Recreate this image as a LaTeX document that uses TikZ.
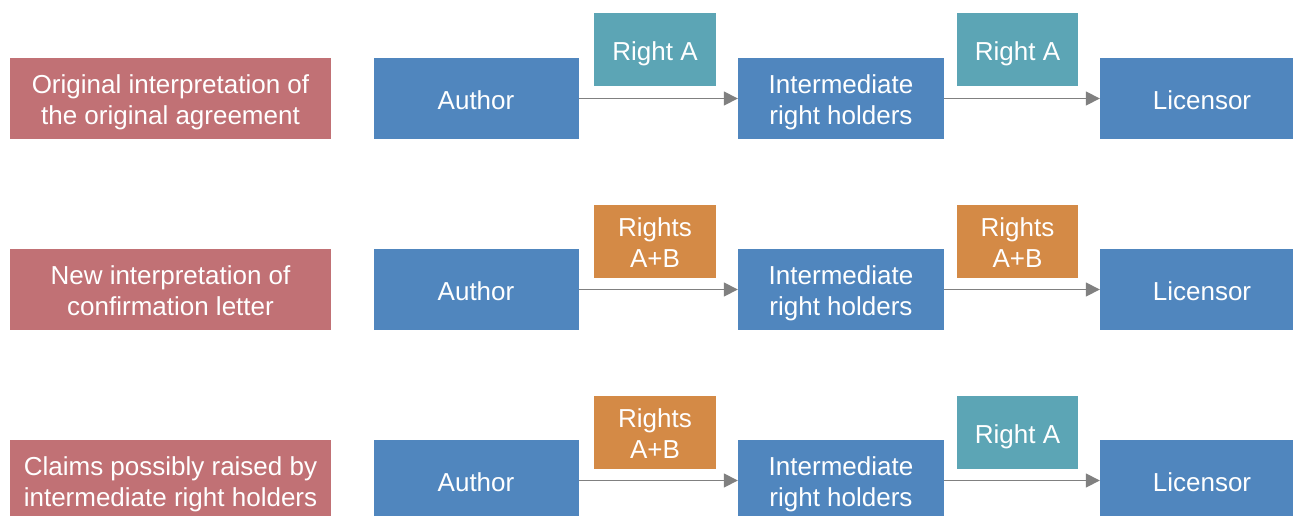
\documentclass[tikz,border=0pt]{standalone}
\usepackage{fontspec}
\setmainfont{Liberation Sans}
\usetikzlibrary{arrows.meta}
\definecolor{cred}{RGB}{193,113,117}
\definecolor{cblue}{RGB}{80,134,190}
\definecolor{cteal}{RGB}{92,165,181}
\definecolor{corange}{RGB}{212,138,70}
\definecolor{carrow}{RGB}{128,128,128}
\newcommand{\strA}{\rule{0pt}{30.7pt}}
\newcommand{\strB}{\rule[-9.3pt]{0pt}{31pt}}
\tikzset{
  base/.style={rectangle, inner sep=0pt, text=white, align=center,
    font=\fontsize{26}{31}\selectfont, minimum height=81pt},
  rowlabel/.style={base, fill=cred, minimum width=321pt},
  party/.style={base, fill=cblue, minimum width=205pt},
  rightA/.style={base, fill=cteal, minimum width=122pt, minimum height=73pt},
  rightAB/.style={base, fill=corange, minimum width=122pt, minimum height=73pt},
  flow/.style={draw=carrow, line width=1.6pt, -{Triangle[length=14pt,width=14pt]}}
}
\begin{document}
\begin{tikzpicture}[x=1pt,y=-1pt]
\useasboundingbox (0,0) rectangle (1293,515);
% Row 1
\node[rowlabel] (l1) at (170.5,98.5) {\strA Original interpretation of\\\strB the original agreement};
\node[party] (a1) at (476,98.5) {\strA\strB Author};
\node[party, minimum width=206pt] (i1) at (841,98.5) {\strA Intermediate\\\strB right holders};
\node[party, minimum width=204pt] (c1) at (1202,98.5) {\strA\strB Licensor};
\node[rightA] (r1a) at (655,49.5) {\strA\strB Right A};
\node[rightA, minimum width=121pt] (r1b) at (1017.5,49.5) {\strA\strB Right A};
\draw[flow] (a1.east) -- (i1.west);
\draw[flow] (i1.east) -- (c1.west);
% Row 2
\node[rowlabel] (l2) at (170.5,289.5) {\strA New interpretation of\\\strB confirmation letter};
\node[party] (a2) at (476,289.5) {\strA\strB Author};
\node[party, minimum width=206pt] (i2) at (841,289.5) {\strA Intermediate\\\strB right holders};
\node[party, minimum width=204pt] (c2) at (1202,289.5) {\strA\strB Licensor};
\node[rightAB] (r2a) at (655,241.5) {\strA Rights\\\strB A+B};
\node[rightAB, minimum width=121pt] (r2b) at (1017.5,241.5) {\strA Rights\\\strB A+B};
\draw[flow] (a2.east) -- (i2.west);
\draw[flow] (i2.east) -- (c2.west);
% Row 3
\node[rowlabel] (l3) at (170.5,480.5) {\strA Claims possibly raised by\\\strB intermediate right holders};
\node[party] (a3) at (476,480.5) {\strA\strB Author};
\node[party, minimum width=206pt] (i3) at (841,480.5) {\strA Intermediate\\\strB right holders};
\node[party, minimum width=204pt] (c3) at (1202,480.5) {\strA\strB Licensor};
\node[rightAB] (r3a) at (655,432.5) {\strA Rights\\\strB A+B};
\node[rightA, minimum width=121pt] (r3b) at (1017.5,432.5) {\strA\strB Right A};
\draw[flow] (a3.east) -- (i3.west);
\draw[flow] (i3.east) -- (c3.west);
\end{tikzpicture}
\end{document}
